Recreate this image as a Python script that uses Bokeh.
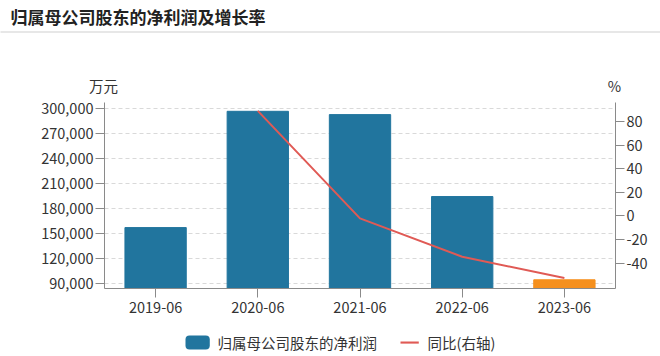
from bokeh.plotting import figure
from bokeh.models import (FactorRange, Range1d, LinearAxis, FixedTicker, NumeralTickFormatter,
                          Label, ColumnDataSource)
from bokeh.embed import file_html
from bokeh.resources import INLINE

# ---- data ----
periods = ["2019-06", "2020-06", "2021-06", "2022-06", "2023-06"]
net_profit = [157000, 297100, 293100, 194400, 94100]          # 万元
yoy_growth = [float("nan"), 89.0, -2.0, -34.5, -52.5]          # %
left_ticks = [90000, 120000, 150000, 180000, 210000, 240000, 270000, 300000]
right_ticks = [-40, -20, 0, 20, 40, 60, 80]

title_text = "归属母公司股东的净利润及增长率"
bar_label = "归属母公司股东的净利润"
line_label = "同比(右轴)"
left_unit = "万元"
right_unit = "%"

FONT = "Noto Sans CJK SC"
BLUE = "#21759e"
ORANGE = "#f5901e"
RED = "#e05a55"
AXIS = "#8a8a8a"
TXT = "#333333"

W, H = 660, 356
FL, FR, FT, FB = 104, 615, 102, 288
bar_colors = [BLUE] * (len(periods) - 1) + [ORANGE]
src = ColumnDataSource(dict(x=periods, top=net_profit, g=yoy_growth, c=bar_colors))

p = figure(x_range=FactorRange(*periods), y_range=Range1d(83600, 307700),
           frame_width=FR - FL, frame_height=FB - FT,
           output_backend="svg", toolbar_location=None,
           min_border_left=FL, min_border_right=W - FR, min_border_top=FT, min_border_bottom=H - FB)
p.outline_line_color = None
p.background_fill_color = "white"
p.border_fill_color = "white"

p.extra_y_ranges = {"pct": Range1d(-61.4, 96.1)}

bars = p.vbar(x="x", top="top", bottom=0, width=0.6, color="c", source=src)
line = p.line(x="x", y="g", y_range_name="pct", line_color=RED, line_width=2, source=src)

# axes
def style_axis(ax):
    ax.axis_line_color = AXIS
    ax.major_tick_line_color = AXIS
    ax.major_tick_out = 9
    ax.major_tick_in = 0
    ax.minor_tick_out = 0
    ax.minor_tick_in = 0
    ax.major_label_text_font = FONT
    ax.major_label_text_font_size = "14.5px"
    ax.major_label_text_color = TXT
    ax.major_label_standoff = 2

xa = p.xaxis[0]
style_axis(xa)
xa.major_label_standoff = 4

ya = p.yaxis[0]
style_axis(ya)
ya.ticker = FixedTicker(ticks=left_ticks)
ya.formatter = NumeralTickFormatter(format="0,0")

ra = LinearAxis(y_range_name="pct", ticker=FixedTicker(ticks=right_ticks),
                formatter=NumeralTickFormatter(format="0"))
style_axis(ra)
p.add_layout(ra, "right")

p.xgrid.grid_line_color = None
p.ygrid.grid_line_color = "#d9d9d9"
p.ygrid.grid_line_dash = "4 3"
p.ygrid.ticker = FixedTicker(ticks=left_ticks)


# Texts outside the frame live in side panels (canvas units place them exactly);
# they are spread over the panels so that no border has to grow.
def canvas_text(x, y, text, panel, size="14.5px", align="left", **kw):
    p.add_layout(Label(x=x, y=y, x_units="canvas", y_units="canvas", text=text,
                       text_font=FONT, text_font_size=size, text_color=kw.pop("color", TXT),
                       text_baseline="middle", text_align=align, **kw), panel)


def canvas_box(x, y, w, h, color, panel, radius=0):
    kw = dict(x=x, y=y, x_units="canvas", y_units="canvas", text=" ",
              text_font_size="1px", text_baseline="top", text_align="left",
              background_fill_color=color, background_fill_alpha=1,
              padding=dict(left=0, right=w, top=0, bottom=h))
    try:
        lab = Label(border_radius=radius, **kw)
    except Exception:
        lab = Label(**kw)
    p.add_layout(lab, panel)


# title, divider & units
canvas_text(10, 15.5, title_text, "above", size="17px", text_font_style="bold", color="#222222")
canvas_box(0, 31, W, 0, "#cfcfcf", "above")
canvas_text(103, 84.5, left_unit, "left", align="center")
canvas_text(614, 85, right_unit, "below", align="center")

# legend
canvas_box(185, 335, 24, 13, BLUE, "above", radius=4)
canvas_text(217, 342, bar_label, "above")
canvas_box(400, 341, 18, 1, RED, "above")
canvas_text(427, 342, line_label, "above")

open("out.html", "w").write(file_html(p, INLINE))
